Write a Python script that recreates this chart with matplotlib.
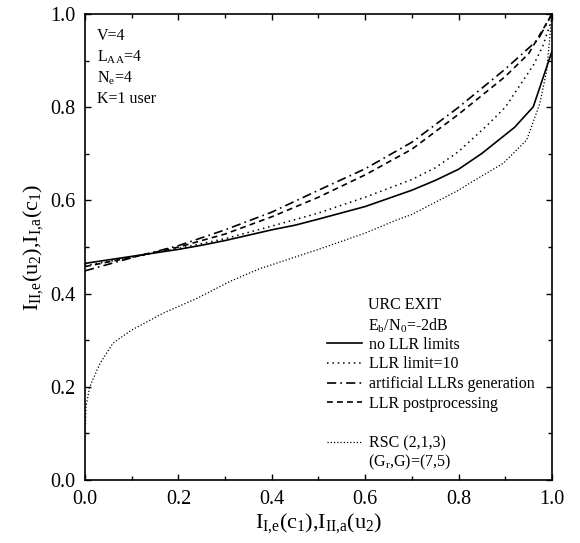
import numpy as np
import matplotlib
matplotlib.use("Agg")
import matplotlib.pyplot as plt
from matplotlib.lines import Line2D
from matplotlib.ticker import MultipleLocator

plt.rcParams['font.family'] = 'Liberation Serif'
plt.rcParams['mathtext.fontset'] = 'custom'
plt.rcParams['mathtext.rm'] = 'Liberation Serif'
plt.rcParams['mathtext.it'] = 'Liberation Serif:italic'

# URC EXIT curves
x_nolim = [0.0, 0.1, 0.2, 0.25, 0.3, 0.4, 0.45, 0.5, 0.6, 0.7, 0.75, 0.8, 0.85, 0.9, 0.92, 0.96, 1.0]
y_nolim = [0.465, 0.480, 0.495, 0.504, 0.514, 0.537, 0.547, 0.560, 0.587, 0.622, 0.643, 0.667, 0.701, 0.741, 0.757, 0.801, 0.920]

x_lim10 = [0.0, 0.1, 0.2, 0.3, 0.4, 0.5, 0.6, 0.7, 0.75, 0.8, 0.86, 0.9, 0.93, 0.96, 0.98, 1.0]
y_lim10 = [0.460, 0.478, 0.497, 0.518, 0.545, 0.573, 0.607, 0.645, 0.670, 0.705, 0.760, 0.800, 0.845, 0.890, 0.930, 0.990]

x_art = [0.0, 0.1, 0.2, 0.3, 0.4, 0.5, 0.6, 0.7, 0.8, 0.9, 0.97, 1.0]
y_art = [0.449, 0.477, 0.503, 0.537, 0.575, 0.622, 0.668, 0.725, 0.800, 0.882, 0.945, 1.0]

x_post = [0.0, 0.1, 0.2, 0.3, 0.4, 0.5, 0.6, 0.7, 0.8, 0.9, 0.95, 1.0]
y_post = [0.458, 0.478, 0.500, 0.528, 0.565, 0.607, 0.655, 0.710, 0.785, 0.866, 0.915, 1.0]

# outer RSC(2,1,3) code, inverted EXIT curve
x_rsc = [0.0, 0.002, 0.01, 0.032, 0.06, 0.1, 0.167, 0.24, 0.31, 0.375, 0.4, 0.5, 0.6, 0.667,
         0.7, 0.8, 0.824, 0.896, 0.946, 0.974, 0.989, 1.0]
y_rsc = [0.092, 0.157, 0.200, 0.250, 0.294, 0.322, 0.358, 0.390, 0.426, 0.454, 0.462, 0.495, 0.530, 0.558,
         0.570, 0.622, 0.637, 0.680, 0.730, 0.808, 0.880, 1.0]

fig = plt.figure(figsize=(5.8, 5.43), dpi=100)
ax = fig.add_axes([0.1466, 0.116, 0.805, 0.858])

l1, = ax.plot(x_nolim, y_nolim, color='black', lw=1.2, ls='-')
l2, = ax.plot(x_lim10, y_lim10, color='black', lw=1.1, ls=(0, (1, 2.5)))
l3, = ax.plot(x_art, y_art, color='black', lw=1.2, ls=(0, (5.5, 2.5, 1, 2.5)))
l4, = ax.plot(x_post, y_post, color='black', lw=1.2, ls=(0, (3.5, 2.5)))
l5, = ax.plot(x_rsc, y_rsc, color='black', lw=0.9, ls=(0, (1, 1.6)))

ax.set_xlim(0, 1)
ax.set_ylim(0, 1)
ax.xaxis.set_major_locator(MultipleLocator(0.2))
ax.yaxis.set_major_locator(MultipleLocator(0.2))
ax.xaxis.set_minor_locator(MultipleLocator(0.1))
ax.yaxis.set_minor_locator(MultipleLocator(0.1))
ax.tick_params(which='both', direction='in', top=True, right=True, width=1)
ax.tick_params(which='major', length=4, labelsize=14.5, pad=7)
ax.tick_params(which='minor', length=3)
ax.xaxis.set_major_formatter(plt.FormatStrFormatter('%.1f'))
ax.yaxis.set_major_formatter(plt.FormatStrFormatter('%.1f'))
for s in ax.spines.values():
    s.set_linewidth(1.2)

ax.set_xlabel(r'$\mathrm{I_{I{,}e}(c_1){,}I_{II{,}a}(u_2)}$', fontsize=16, labelpad=2)
ax.set_ylabel(r'$\mathrm{I_{II{,}e}(u_2){,}I_{I{,}a}(c_1)}$', fontsize=16, labelpad=4)

# parameters, upper left
params = ['V=4', r'L$_{\mathrm{AA}}$=4', r'N$_{\mathrm{e}}$=4', 'K=1 user']
for i, p in enumerate(params):
    ax.text(0.025, 0.952 - i * 0.0444, p, transform=ax.transAxes, fontsize=11.5, va='center')

# legend block
tx = 0.607
ax.text(tx, 0.375, 'URC EXIT', transform=ax.transAxes, fontsize=11.5, va='center')
ax.text(tx, 0.332, r'E$_{\mathrm{b}}$/N$_0$=-2dB', transform=ax.transAxes, fontsize=11.5, va='center')
blank = Line2D([], [], ls='none')
ax.legend([l1, l2, l3, l4, blank, l5],
          ['no LLR limits', 'LLR limit=10', 'artificial LLRs generation',
           'LLR postprocessing', ' ', 'RSC (2,1,3)'],
          loc='upper left', bbox_to_anchor=(0.518, 0.308), frameon=False,
          fontsize=11.5, handlelength=2.2, handletextpad=0.45, labelspacing=0.24,
          borderpad=0, borderaxespad=0)
ax.text(tx, 0.038, r'(G$_{\mathrm{r}}$,G)=(7,5)', transform=ax.transAxes, fontsize=11.5, va='center')

fig.savefig('out.png', dpi=100)
